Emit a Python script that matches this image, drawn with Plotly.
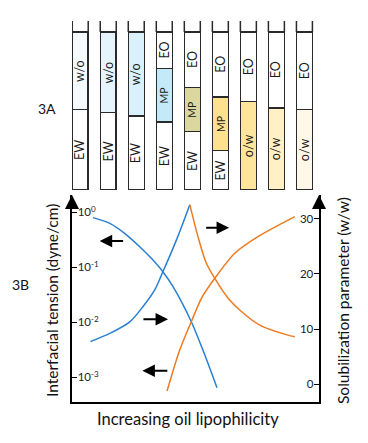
import plotly.graph_objects as go

# ---------------- data ----------------
# 3A: tube phase heights (% of tube volume, bottom to top)
tubes = [1, 2, 3, 4, 5, 6, 7, 8, 9]
ew_height = [51, 49, 47, 43, 37, 25, 0, 0, 0]
mid_height = [49, 51, 53, 34, 28, 34, 56, 52, 51]
mid_label = ["w/o", "w/o", "w/o", "MP", "MP", "MP", "o/w", "o/w", "o/w"]
mid_color = ["#f4fafe", "#e6f5fd", "#d8f1fc", "#c4eafa", "#dcd79e",
             "#fde18f", "#fde59c", "#fff0c6", "#fff8e8"]
eo_height = [0, 0, 0, 23, 35, 41, 44, 48, 49]

# 3B: curves (x = oil lipophilicity, arbitrary 0-10 scale)
ift_blue_x = [0.85, 1.53, 2.13, 2.74, 3.21, 3.68, 4.09, 4.83, 5.30, 5.87]
ift_blue_y = [0.80, 0.63, 0.415, 0.237, 0.146, 0.0832, 0.0444, 0.01025, 0.00313, 0.000647]

sol_blue_x = [0.745, 1.53, 2.34, 2.87, 3.35, 3.68, 4.23, 4.77]
sol_blue_y = [7.7, 9.2, 11.3, 14.05, 17.1, 20.4, 26.2, 32.6]

sol_orange_x = [4.77, 5.10, 5.44, 5.78, 6.32, 6.79, 7.60, 8.81, 9.02]
sol_orange_y = [32.6, 26.8, 21.95, 19.2, 15.6, 13.45, 10.7, 8.8, 8.6]

ift_orange_x = [3.85, 4.36, 4.83, 5.24, 5.78, 6.59, 7.53, 9.02]
ift_orange_y = [0.000564, 0.00313, 0.01025, 0.0273, 0.0631, 0.18, 0.36, 0.832]

# direction arrows next to the curves: (tail x, head x, y on right axis)
arrow_tail_x = [2.13, 2.83, 5.37, 3.92]
arrow_head_x = [1.12, 3.89, 6.36, 2.85]
arrow_y = [26.0, 11.76, 28.4, 2.42]

ift_ticks = [1, 0.1, 0.01, 0.001]
ift_ticktext = ["10<sup>0</sup>", "10<sup>-1</sup>", "10<sup>-2</sup>", "10<sup>-3</sup>"]
sol_ticks = [0, 10, 20, 30]

BLUE = "#2a7fd2"
ORANGE = "#ee7b22"
FONT = "Lato, Open Sans, sans-serif"
TUBE_W = 0.57
X_RANGE = [0, 10]
Y2_RANGE = [-3.27, 34.36]

# page offset (browser body margin) compensation
OFF = 8
W, H = 368 - OFF, 443 - OFF
ML, MR, MT, MB = 72 - OFF, 49, 21 - OFF, 41
PW, PH = W - ML - MR, H - MT - MB

fig = go.Figure()

# ---------------- tubes (3A) ----------------
line_style = dict(color="#2a2a2a", width=1.5)
for heights, colors in ((ew_height, "white"), (mid_height, mid_color), (eo_height, "white")):
    fig.add_trace(go.Bar(
        x=tubes, y=heights, width=TUBE_W, xaxis="x3", yaxis="y3",
        marker=dict(color=colors, line=line_style), hoverinfo="skip"))

# open tube tops (walls above the cap line)
wall_x, wall_y = [], []
for t in tubes:
    for side in (-TUBE_W / 2, TUBE_W / 2):
        wall_x += [t + side, t + side, None]
        wall_y += [100, 107, None]
fig.add_trace(go.Scatter(x=wall_x, y=wall_y, xaxis="x3", yaxis="y3", mode="lines",
                         line=dict(color="#2a2a2a", width=1.5), hoverinfo="skip",
                         cliponaxis=False))

# ---------------- curves (3B) ----------------
fig.add_trace(go.Scatter(x=ift_blue_x, y=ift_blue_y, mode="lines", yaxis="y",
                         line=dict(color=BLUE, width=1.5, shape="spline", smoothing=0.8)))
fig.add_trace(go.Scatter(x=sol_blue_x, y=sol_blue_y, mode="lines", yaxis="y2",
                         line=dict(color=BLUE, width=1.5, shape="spline", smoothing=0.8)))
fig.add_trace(go.Scatter(x=sol_orange_x, y=sol_orange_y, mode="lines", yaxis="y2",
                         line=dict(color=ORANGE, width=1.5, shape="spline", smoothing=0.8)))
fig.add_trace(go.Scatter(x=ift_orange_x, y=ift_orange_y, mode="lines", yaxis="y",
                         line=dict(color=ORANGE, width=1.5, shape="spline", smoothing=0.8)))

MAIN_TOP = (402 - 195) / PH
TUBE_BOTTOM = (402 - 190) / PH

annotations = []
# direction arrows
for tx, hx, yy in zip(arrow_tail_x, arrow_head_x, arrow_y):
    annotations.append(dict(x=hx, y=yy, xref="x", yref="y2", ax=tx, ay=yy, axref="x",
                            ayref="y2", text="", showarrow=True, arrowhead=2,
                            arrowsize=1.25, arrowwidth=2, arrowcolor="black"))
# axis arrowheads
for xp in (0, 1):
    annotations.append(dict(x=xp, y=MAIN_TOP, xref="paper", yref="paper", ax=0, ay=14,
                            text="", showarrow=True, arrowhead=2, arrowsize=1.4,
                            arrowwidth=2, arrowcolor="black"))

# tube labels, centred in each phase segment
for i, t in enumerate(tubes):
    base = 0
    for h, lab, size in ((ew_height[i], "EW", 12.5),
                         (mid_height[i], mid_label[i], 10.5 if mid_label[i] == "MP" else 12.5),
                         (eo_height[i], "EO", 12.5)):
        if h > 0:
            annotations.append(dict(x=t, y=base + h / 2, xref="x3", yref="y3", text=lab,
                                    showarrow=False, textangle=-90,
                                    font=dict(family=FONT, size=size, color="#1a1a1a")))
        base += h


def px_ann(text, x, y, size, angle=0):
    # position given in reference-image pixels, converted to paper coords
    return dict(text=text, x=(x - 72) / PW, y=(402 - y) / PH, xref="paper", yref="paper",
                showarrow=False, textangle=angle, xanchor="center", yanchor="middle",
                font=dict(family=FONT, size=size, color="#111"))


annotations += [
    px_ann("Interfacial tension (dyne/cm)", 52, 301, 15.5, -90),
    px_ann("Solubilization parameter (w/w)", 343, 301, 15.5, -90),
    px_ann("Increasing oil lipophilicity", 187.5, 419, 16.5),
    px_ann("3A", 47, 108, 14),
    px_ann("3B", 20, 284, 14),
]

fig.update_layout(
    width=W, height=H,
    margin=dict(l=ML, r=MR, t=MT, b=MB),
    paper_bgcolor="white", plot_bgcolor="white",
    showlegend=False, barmode="stack",
    font=dict(family=FONT, color="#222"),
    xaxis=dict(range=X_RANGE, domain=[0, 1], showline=True, linecolor="black", linewidth=2,
               showticklabels=False, ticks="", showgrid=False, zeroline=False),
    yaxis=dict(type="log", range=[-3.449, 0.3145], domain=[0, MAIN_TOP],
               tickvals=ift_ticks, ticktext=ift_ticktext, ticks="inside", ticklen=5,
               tickcolor="black", ticklabelposition="inside",
               tickfont=dict(family=FONT, size=11.5, color="#222"),
               showline=True, linecolor="black", linewidth=2, showgrid=False, zeroline=False),
    yaxis2=dict(range=Y2_RANGE, overlaying="y", side="right",
                tickvals=sol_ticks, ticks="inside", ticklen=5, tickcolor="black",
                ticklabelposition="inside", tickfont=dict(family=FONT, size=11.5, color="#222"),
                showline=True, linecolor="black", linewidth=2, showgrid=False, zeroline=False),
    xaxis3=dict(range=[0.707, 9.52], domain=[0, 1], anchor="y3", visible=False),
    yaxis3=dict(range=[0, 107], domain=[TUBE_BOTTOM, 1], anchor="x3", visible=False),
    annotations=annotations,
)

fig.write_html("out.html")
